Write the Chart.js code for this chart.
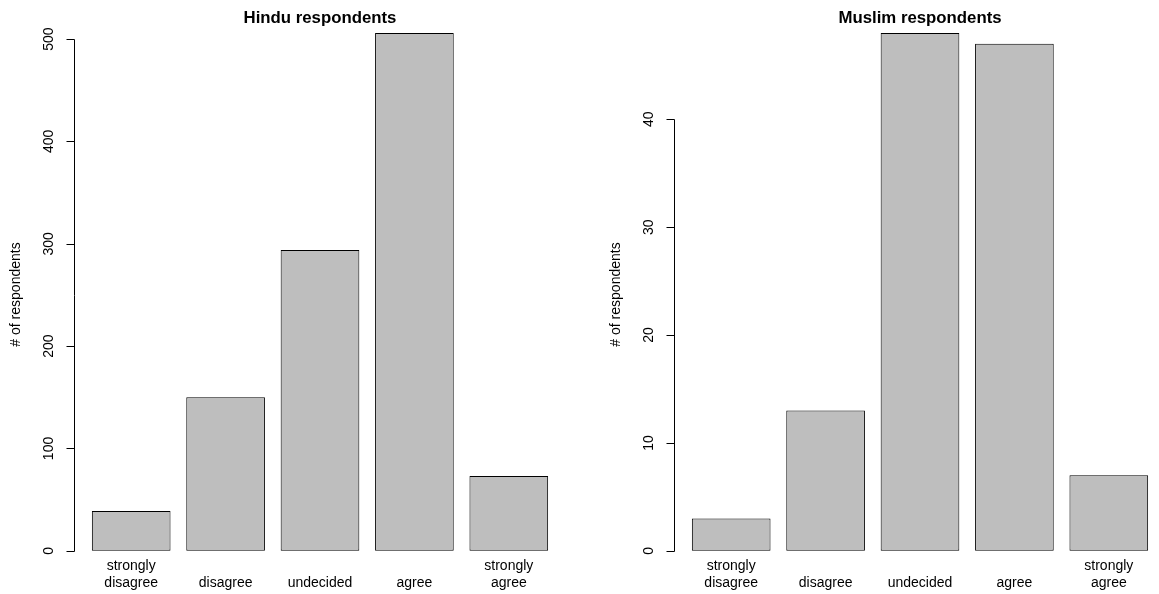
<!DOCTYPE html>
<html>
<head>
<meta charset="utf-8">
<script src="https://cdn.jsdelivr.net/npm/chart.js@4.4.1/dist/chart.umd.min.js"></script>
<style>
  html, body { margin: 0; padding: 0; background: #fff; }
  #wrap { position: relative; width: 1159px; height: 594px; overflow: hidden; }
  .panel { position: absolute; top: 0; height: 594px; }
  #left { left: 0; width: 600px; }
  #right { left: 600px; width: 559px; }
</style>
</head>
<body>
<div id="wrap">
  <div class="panel" id="left"><canvas id="hinduChart"></canvas></div>
  <div class="panel" id="right"><canvas id="muslimChart"></canvas></div>
</div>
<script>
const categories = [['strongly', 'disagree'], 'disagree', 'undecided', 'agree', ['strongly', 'agree']];
const hinduCounts = [39, 150, 294, 506, 73];
const muslimCounts = [3, 13, 48, 47, 7];
const hinduTicks = [0, 100, 200, 300, 400, 500];
const muslimTicks = [0, 10, 20, 30, 40];
const yLabel = '# of respondents';

const FONT = "'Liberation Sans', Arial, Helvetica, sans-serif";

// R style y axis: line only between first and last tick, ticks outside, labels turned
const rAxis = {
  id: 'rAxis',
  afterDraw(chart) {
    const ctx = chart.ctx;
    const ys = chart.scales.y;
    const area = chart.chartArea;
    const slot = (area.right - area.left) / categories.length;
    const ax = Math.round(area.left - slot * 0.11) + 0.5;
    const vals = ys.ticks.map(t => t.value);
    const py = v => Math.round(ys.getPixelForValue(v)) + 0.5;

    ctx.save();
    ctx.strokeStyle = '#000';
    ctx.lineWidth = 1;
    ctx.beginPath();
    ctx.moveTo(ax, py(vals[0]));
    ctx.lineTo(ax, py(vals[vals.length - 1]));
    vals.forEach(v => {
      ctx.moveTo(ax, py(v));
      ctx.lineTo(ax - 8, py(v));
    });
    ctx.stroke();

    ctx.fillStyle = '#000';
    ctx.font = '14px ' + FONT;
    ctx.textAlign = 'center';
    ctx.textBaseline = 'middle';
    vals.forEach(v => {
      ctx.save();
      ctx.translate(ax - 25, ys.getPixelForValue(v));
      ctx.rotate(-Math.PI / 2);
      ctx.fillText(String(v), 0, 0);
      ctx.restore();
    });

    ctx.save();
    ctx.translate(16, (area.top + area.bottom) / 2);
    ctx.rotate(-Math.PI / 2);
    ctx.fillText(yLabel, 0, 0);
    ctx.restore();
    ctx.restore();
  }
};

function makeChart(id, title, counts, tickVals, padRight) {
  const top = Math.max(...counts);
  return new Chart(document.getElementById(id), {
    type: 'bar',
    data: {
      labels: categories,
      datasets: [{
        data: counts,
        backgroundColor: '#BEBEBE',
        borderColor: '#000',
        borderWidth: 1,
        borderSkipped: false,
        categoryPercentage: 1,
        barPercentage: 1 / 1.2
      }]
    },
    options: {
      responsive: true,
      maintainAspectRatio: false,
      animation: false,
      layout: { padding: { left: 84, right: padRight, top: 0, bottom: 0 } },
      plugins: {
        legend: { display: false },
        tooltip: { enabled: false },
        title: {
          display: true,
          text: title,
          color: '#000',
          font: { family: FONT, size: 16.8, weight: 'bold', lineHeight: 1.2 },
          padding: { top: 8.5, bottom: 4.3 }
        }
      },
      scales: {
        x: {
          grid: { display: false, drawTicks: false },
          border: { display: false },
          ticks: {
            color: '#000',
            font: { family: FONT, size: 14, lineHeight: 1.2 },
            crossAlign: 'far',
            padding: 10,
            maxRotation: 0,
            autoSkip: false
          },
          afterFit(scale) { scale.height = 38; }
        },
        y: {
          display: false,
          min: -0.01 * top,
          max: top,
          afterBuildTicks(scale) { scale.ticks = tickVals.map(v => ({ value: v })); }
        }
      }
    },
    plugins: [rAxis]
  });
}

makeChart('hinduChart', 'Hindu respondents', hinduCounts, hinduTicks, 44);
makeChart('muslimChart', 'Muslim respondents', muslimCounts, muslimTicks, 3);
</script>
</body>
</html>
